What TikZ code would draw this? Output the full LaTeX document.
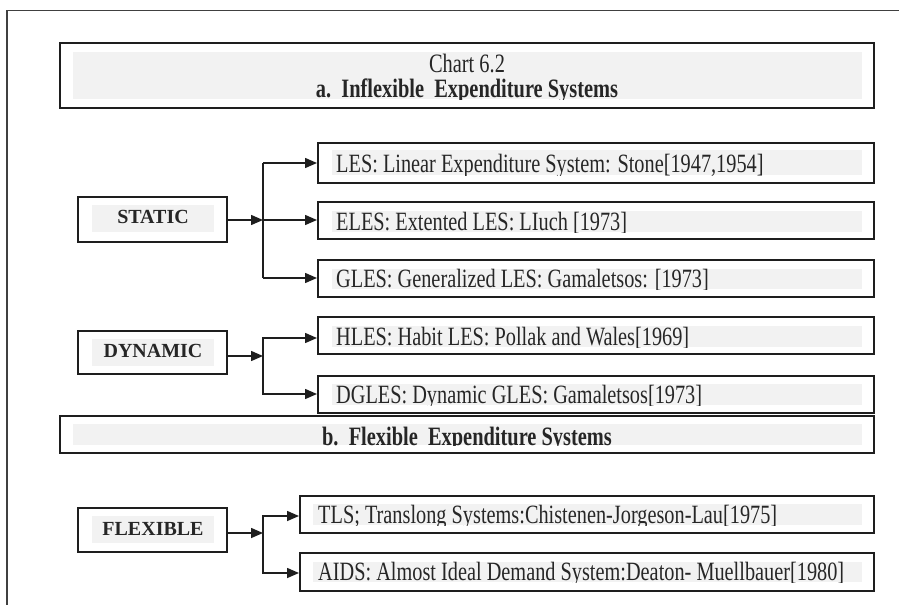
\documentclass[tikz,border=0pt]{standalone}
\usepackage{fontspec}
\usepackage{graphicx}
\setmainfont{Liberation Serif}
\usetikzlibrary{arrows.meta,fit}
\definecolor{hl}{HTML}{F2F2F2}
\definecolor{ln}{HTML}{1E1E1E}
\definecolor{tx}{HTML}{262626}
\newcommand{\tall}[1]{\scalebox{1}[1.3]{#1}}
\begin{document}
\begin{tikzpicture}[x=1pt,y=-1pt,
  boxline/.style={draw=ln, line width=2pt, inner sep=0pt},
  item/.style={anchor=base west, inner sep=0pt, text=tx, font=\fontsize{20.3}{24}\selectfont},
  cat/.style={anchor=base, inner sep=0pt, text=tx, font=\fontsize{20}{24}\selectfont\bfseries},
  ttl/.style={anchor=base, inner sep=0pt, text=tx, font=\fontsize{20.4}{24}\selectfont},
  conn/.style={draw=ln, line width=1.5pt},
  arr/.style={conn, -{Triangle[length=12pt,width=10pt]}}]
\useasboundingbox (0,0) rectangle (899,605);
% outer frame
\draw[draw=ln!85, line width=1.5pt] (899,10.5) -- (7,10.5) -- (7,605);

% title box
\fill[hl] (73,52) rectangle (862,99);
\begin{scope}
\clip (73,40) rectangle (862,99.5);
\node[ttl] (t1) at (467,72) {\tall{Chart 6.2}};
\node[ttl, font=\fontsize{20.4}{24}\selectfont\bfseries] (t2) at (467,97) {\tall{a.\ \ Inflexible\ \ Expenditure Systems}};
\end{scope}
\node[boxline, fit={(60,43) (874,108)}] (tbox) {};

% section b box
\fill[hl] (73,424) rectangle (862,445);
\begin{scope}
\clip (73,415) rectangle (862,445.5);
\node[ttl, font=\fontsize{20.4}{24}\selectfont\bfseries] (b1) at (467,445) {\tall{b.\ \ Flexible\ \ Expenditure Systems}};
\end{scope}
\node[boxline, fit={(60,416) (874,453)}] (bbox) {};

% category boxes
\fill[hl] (92,205) rectangle (214,232);
\node[cat] (statict) at (153,223) {STATIC};
\node[boxline, fit={(78,197) (227,242)}] (static) {};

\fill[hl] (92,339) rectangle (214,366);
\node[cat] (dynt) at (153,357) {DYNAMIC};
\node[boxline, fit={(78,331) (227,374)}] (dyn) {};

\fill[hl] (92,516) rectangle (214,543);
\node[cat] (flext) at (153,535) {FLEXIBLE};
\node[boxline, fit={(78,508) (227,552)}] (flex) {};

% item boxes
\fill[hl] (332,150) rectangle (862,175);
\begin{scope}\clip (332,140) rectangle (862,175.5);
\node[item] (lest) at (336,172.5) {\tall{LES: Linear Expenditure System: Stone[1947,1954]}};
\end{scope}
\node[boxline, fit={(318,143) (874,183)}] (les) {};

\fill[hl] (332,211) rectangle (862,232);
\begin{scope}\clip (332,200) rectangle (862,232.5);
\node[item] (elest) at (336,230) {\tall{ELES: Extented LES: LIuch [1973]}};
\end{scope}
\node[boxline, fit={(318,202) (874,239)}] (eles) {};

\fill[hl] (332,269) rectangle (862,289);
\begin{scope}\clip (332,258) rectangle (862,289.5);
\node[item] (glest) at (336,287.5) {\tall{GLES: Generalized LES: Gamaletsos: [1973]}};
\end{scope}
\node[boxline, fit={(318,260) (874,297)}] (gles) {};

\fill[hl] (332,326) rectangle (862,347);
\begin{scope}\clip (332,315) rectangle (862,347.5);
\node[item] (hlest) at (336,345) {\tall{HLES: Habit LES: Pollak and Wales[1969]}};
\end{scope}
\node[boxline, fit={(318,317) (874,354)}] (hles) {};

\fill[hl] (332,384) rectangle (862,405);
\begin{scope}\clip (332,374) rectangle (862,405.5);
\node[item] (dglest) at (336,403) {\tall{DGLES: Dynamic GLES: Gamaletsos[1973]}};
\end{scope}
\node[boxline, fit={(318,376) (874,413)}] (dgles) {};

\fill[hl] (313,504) rectangle (862,525);
\begin{scope}\clip (313,494) rectangle (862,525.5);
\node[item] (tlst) at (318,523) {\tall{TLS; Translong Systems:Chistenen-Jorgeson-Lau[1975]}};
\end{scope}
\node[boxline, fit={(300,496) (874,533)}] (tls) {};

\fill[hl] (313,562) rectangle (862,582);
\begin{scope}\clip (313,551) rectangle (862,582.5);
\node[item] (aidst) at (318,580.5) {\tall{AIDS: Almost Ideal Demand System:Deaton- Muellbauer[1980]}};
\end{scope}
\node[boxline, fit={(300,553) (874,591)}] (aids) {};

% connectors: static
\coordinate (sj) at (263,220);
\coordinate (st) at (263,163);
\coordinate (sb) at (263,278);
\draw[arr] (static.east |- sj) -- (sj);
\draw[conn] (st) -- (sb);
\draw[arr] (st) -- (les.west |- st);
\draw[arr] (sj) -- (eles.west |- sj);
\draw[arr] (sb) -- (gles.west |- sb);

% connectors: dynamic
\coordinate (dj) at (263,356);
\coordinate (dt) at (263,338);
\coordinate (db) at (263,394);
\draw[arr] (dyn.east |- dj) -- (dj);
\draw[conn, line cap=rect] (dt) -- (db);
\draw[arr] (dt) -- (hles.west |- dt);
\draw[arr] (db) -- (dgles.west |- db);

% connectors: flexible
\coordinate (fj) at (263,533);
\coordinate (ft) at (263,516);
\coordinate (fb) at (263,573);
\draw[arr] (flex.east |- fj) -- (fj);
\draw[conn, line cap=rect] (ft) -- (fb);
\draw[arr] (ft) -- (tls.west |- ft);
\draw[arr] (fb) -- (aids.west |- fb);
\end{tikzpicture}
\end{document}
